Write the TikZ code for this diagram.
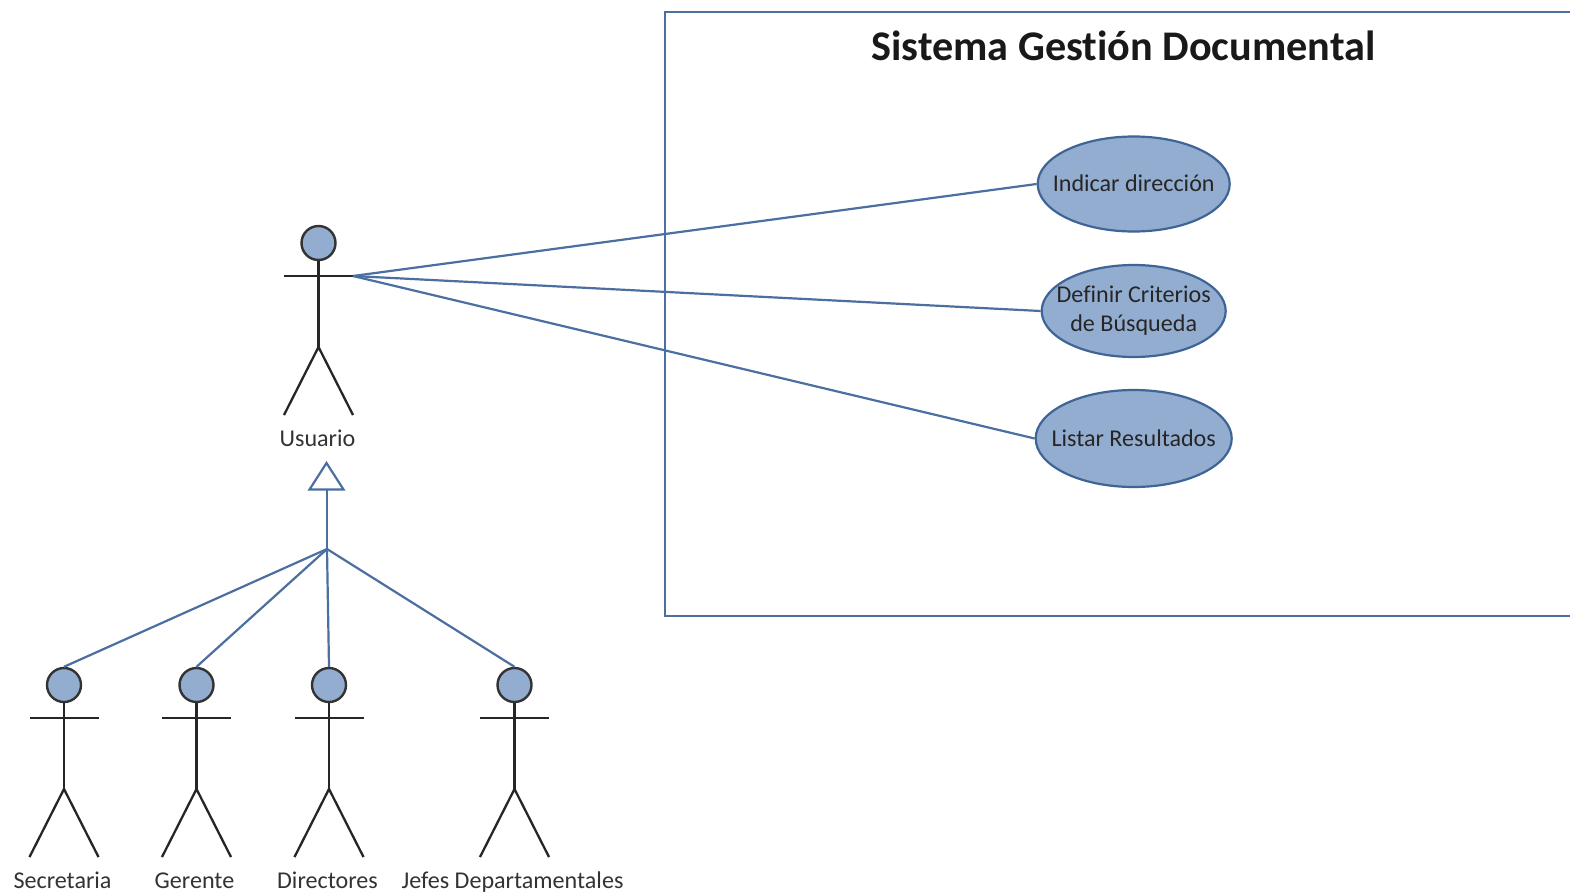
\documentclass[tikz,border=0pt]{standalone}
\usepackage{fontspec}
\setmainfont[Ligatures=NoCommon]{Carlito}
\usetikzlibrary{shapes.geometric}
\definecolor{linea}{HTML}{4A6FA0}
\definecolor{relleno}{HTML}{93ADD0}
\definecolor{borde}{HTML}{3F6496}
\newcommand{\actor}[3]{%
  \node[head] (#1h) at (#2,#3) {};
  \coordinate (#1armL) at (#2-34.5,#3+33);
  \coordinate (#1armR) at (#2+34.5,#3+33);
  \coordinate (#1hip) at (#2,#3+104);
  \coordinate (#1footL) at (#2-34.5,#3+172);
  \coordinate (#1footR) at (#2+34.5,#3+172);
  \draw[stick] (#1h.south) -- (#1hip);
  \draw[stick] (#1armL) -- (#1armR);
  \draw[stick] (#1footL) -- (#1hip) -- (#1footR);
}
\begin{document}
\begin{tikzpicture}[x=1pt,y=-1pt,
  head/.style={circle,draw=black!80,fill=relleno,line width=2.4pt,minimum size=34pt,inner sep=0pt},
  stick/.style={draw=black!85,line width=2.3pt},
  con/.style={draw=linea,line width=2.2pt},
  frame/.style={draw=linea,line width=2pt},
  uc/.style={ellipse,draw=borde,fill=relleno,line width=2.2pt,inner ysep=-10pt,inner xsep=-45pt,align=center,font=\fontsize{24.1}{29}\selectfont,text=black!85},
  lab/.style={font=\fontsize{24.1}{28}\selectfont,text=black!80,inner sep=0pt,anchor=base},
  ttl/.style={font=\bfseries\fontsize{42.2}{46}\selectfont,text=black!90,inner sep=0pt}]
\useasboundingbox (0,0) rectangle (1570,894);
\fill[white] (0,0) rectangle (1570,894);
\coordinate (bTR) at (1570,11.5);
\coordinate (bTL) at (664.5,11.5);
\coordinate (bBL) at (664.5,615.5);
\coordinate (bBR) at (1570,615.5);
\draw[frame] (bTR) -- (bTL) -- (bBL) -- (bBR);
\node[ttl] (t) at (1123.5,46) {Sistema Gestión Documental};
\actor{a}{318.5}{243}
\node[lab] (la) at (317.5,446) {Usuario};
\node[uc,minimum width=192pt,minimum height=95pt] (u1) at (1133.7,184) {\raisebox{1.5pt}{Indicar dirección}};
\node[uc,minimum width=184pt,minimum height=92pt] (u2) at (1133.7,311) {Definir Criterios\\de Búsqueda};
\node[uc,minimum width=196pt,minimum height=97pt] (u3) at (1133.7,438.5) {\raisebox{0.8pt}{Listar Resultados}};
\draw[con] (aarmR) -- (u1.west);
\draw[con] (aarmR) -- (u2.west);
\draw[con] (aarmR) -- (u3.west);
\actor{b}{64}{685}
\actor{c}{196.5}{685}
\actor{d}{329}{685}
\actor{e}{514.5}{685}
\node[lab] (lb) at (62.5,888.5) {Secretaria};
\node[lab] (lc) at (194.5,888.5) {Gerente};
\node[lab] (ld) at (327.5,888.5) {Directores};
\node[lab] (le) at (512.5,888.5) {Jefes Departamentales};
\coordinate (hub) at (327,549);
\coordinate (tA) at (326.5,463);
\coordinate (tL) at (309.5,489.5);
\coordinate (tR) at (343.5,489.5);
\coordinate (tB) at (327,489.5);
\draw[con,fill=white,line join=miter] (tA) -- (tL) -- (tR) -- cycle;
\draw[con] (tB) -- (hub);
\draw[con] (hub) -- (bh.north);
\draw[con] (hub) -- (ch.north);
\draw[con] (hub) -- (dh.north);
\draw[con] (hub) -- (eh.north);
\end{tikzpicture}
\end{document}
